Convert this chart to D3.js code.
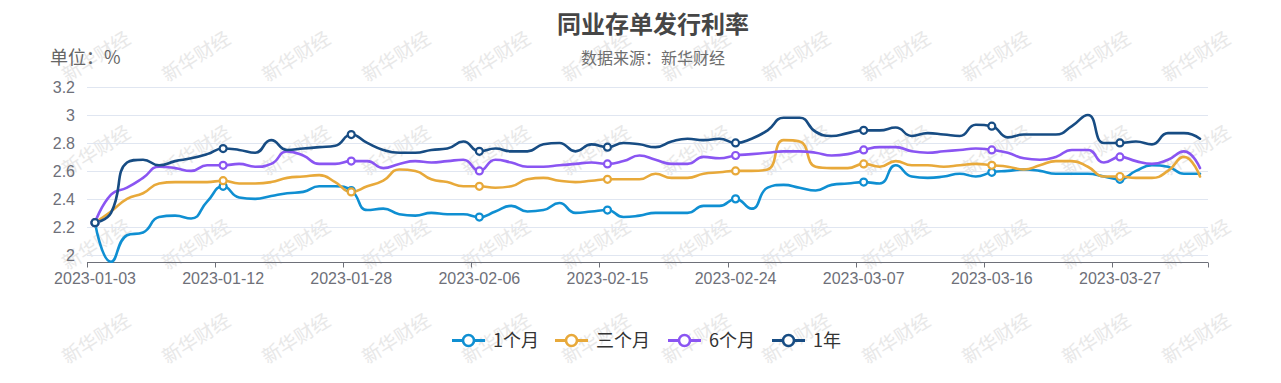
<!DOCTYPE html>
<html>
<head>
<meta charset="utf-8">
<script src="https://cdn.jsdelivr.net/npm/d3@7"></script>
<style>
html,body{margin:0;padding:0;background:#fff;}
svg{display:block;}
</style>
</head>
<body>
<svg id="chart" width="1281" height="383"></svg>
<script>
// ---------------- data ----------------
const dates = [
"2023-01-03","2023-01-04","2023-01-05","2023-01-06","2023-01-08","2023-01-09","2023-01-10","2023-01-11","2023-01-12",
"2023-01-13","2023-01-16","2023-01-17","2023-01-18","2023-01-19","2023-01-20","2023-01-21","2023-01-28",
"2023-01-29","2023-01-30","2023-01-31","2023-02-01","2023-02-02","2023-02-03","2023-02-05","2023-02-06",
"2023-02-07","2023-02-08","2023-02-09","2023-02-10","2023-02-12","2023-02-13","2023-02-14","2023-02-15",
"2023-02-16","2023-02-17","2023-02-19","2023-02-20","2023-02-21","2023-02-22","2023-02-23","2023-02-24",
"2023-02-26","2023-02-27","2023-02-28","2023-03-01","2023-03-02","2023-03-03","2023-03-06","2023-03-07",
"2023-03-08","2023-03-09","2023-03-10","2023-03-12","2023-03-13","2023-03-14","2023-03-15","2023-03-16",
"2023-03-17","2023-03-19","2023-03-20","2023-03-21","2023-03-22","2023-03-23","2023-03-24","2023-03-27",
"2023-03-28","2023-03-29","2023-03-30","2023-03-31","2023-04-03"];

const seriesNames = ["1个月","三个月","6个月","1年"];

const rate1m = [2.23,1.95,2.14,2.16,2.27,2.28,2.26,2.38,2.49,2.41,2.40,2.42,2.44,2.45,2.49,2.49,2.46,2.32,2.33,2.29,2.28,2.30,2.29,2.29,2.27,2.31,2.35,2.31,2.32,2.37,2.30,2.31,2.32,2.27,2.28,2.30,2.30,2.30,2.35,2.35,2.40,2.33,2.48,2.50,2.48,2.46,2.50,2.51,2.52,2.51,2.64,2.56,2.55,2.56,2.58,2.56,2.59,2.60,2.61,2.60,2.58,2.58,2.58,2.56,2.54,2.60,2.64,2.63,2.58,2.58];
const rate3m = [2.23,2.31,2.40,2.44,2.51,2.52,2.52,2.52,2.53,2.51,2.51,2.52,2.55,2.56,2.57,2.52,2.45,2.49,2.53,2.61,2.60,2.54,2.52,2.49,2.49,2.48,2.49,2.54,2.55,2.53,2.52,2.53,2.54,2.54,2.54,2.58,2.55,2.55,2.58,2.59,2.60,2.60,2.61,2.82,2.81,2.63,2.62,2.62,2.65,2.63,2.67,2.64,2.64,2.63,2.64,2.65,2.64,2.63,2.61,2.64,2.67,2.67,2.63,2.56,2.56,2.55,2.55,2.60,2.70,2.56];
const rate6m = [2.23,2.43,2.48,2.55,2.63,2.62,2.60,2.64,2.64,2.65,2.63,2.65,2.74,2.71,2.65,2.65,2.67,2.67,2.62,2.65,2.67,2.66,2.67,2.68,2.60,2.68,2.66,2.63,2.63,2.64,2.65,2.66,2.65,2.67,2.71,2.68,2.65,2.65,2.70,2.69,2.71,2.72,2.73,2.74,2.74,2.73,2.71,2.72,2.75,2.77,2.77,2.74,2.73,2.74,2.75,2.76,2.75,2.73,2.69,2.68,2.70,2.75,2.75,2.66,2.70,2.67,2.65,2.68,2.74,2.62];
const rate1y = [2.23,2.30,2.66,2.68,2.64,2.67,2.69,2.72,2.76,2.75,2.73,2.82,2.75,2.76,2.77,2.78,2.86,2.80,2.75,2.73,2.73,2.75,2.76,2.81,2.74,2.76,2.74,2.74,2.79,2.80,2.74,2.79,2.77,2.80,2.79,2.77,2.81,2.83,2.82,2.83,2.80,2.83,2.89,2.98,2.98,2.88,2.85,2.87,2.89,2.89,2.91,2.85,2.87,2.86,2.85,2.93,2.92,2.84,2.86,2.86,2.86,2.92,3.00,2.80,2.80,2.81,2.79,2.87,2.87,2.83];

const yTicks = [2, 2.2, 2.4, 2.6, 2.8, 3, 3.2];
const colors = ["#0f8fd2","#e8a93a","#8a55f2","#174c83"];

// ---------------- smoothing curve (ECharts-like, clamped) ----------------
function SmoothCurve(context, smooth) { this._context = context; this._smooth = smooth; }
SmoothCurve.prototype = {
  areaStart() {}, areaEnd() {},
  lineStart() { this._pts = []; },
  point(x, y) { this._pts.push([+x, +y]); },
  lineEnd() {
    const p = this._pts, ctx = this._context, s = this._smooth, n = p.length;
    if (!n) return;
    ctx.moveTo(p[0][0], p[0][1]);
    let cpx0 = p[0][0], cpy0 = p[0][1];
    let prevX = p[0][0], prevY = p[0][1];
    for (let i = 1; i < n; i++) {
      const x = p[i][0], y = p[i][1];
      let cpx1, cpy1, ncx = x, ncy = y;
      if (i === n - 1) { cpx1 = x; cpy1 = y; }
      else {
        const nextX = p[i+1][0], nextY = p[i+1][1];
        let vx = nextX - prevX, vy = nextY - prevY;
        const dx0 = x - prevX, dy0 = y - prevY, dx1 = nextX - x, dy1 = nextY - y;
        const lp = Math.sqrt(dx0*dx0 + dy0*dy0), ln = Math.sqrt(dx1*dx1 + dy1*dy1);
        const r = ln / (ln + lp);
        ncx = x + vx * s * r; ncy = y + vy * s * r;
        ncx = Math.min(ncx, Math.max(nextX, x)); ncy = Math.min(ncy, Math.max(nextY, y));
        ncx = Math.max(ncx, Math.min(nextX, x)); ncy = Math.max(ncy, Math.min(nextY, y));
        vx = ncx - x; vy = ncy - y;
        cpx1 = x - vx * lp / ln; cpy1 = y - vy * lp / ln;
        cpx1 = Math.min(cpx1, Math.max(prevX, x)); cpy1 = Math.min(cpy1, Math.max(prevY, y));
        cpx1 = Math.max(cpx1, Math.min(prevX, x)); cpy1 = Math.max(cpy1, Math.min(prevY, y));
        vx = x - cpx1; vy = y - cpy1;
        ncx = x + vx * ln / lp; ncy = y + vy * ln / lp;
      }
      ctx.bezierCurveTo(cpx0, cpy0, cpx1, cpy1, x, y);
      cpx0 = ncx; cpy0 = ncy; prevX = x; prevY = y;
    }
  }
};
const curveSmooth = ctx => new SmoothCurve(ctx, 0.5);

// ---------------- layout ----------------
const W = 1281, H = 383;
const plotL = 87, plotR = 1208, plotT = 87, plotB = 262.5;
const svg = d3.select("#chart");
const cjk = "'Noto Sans CJK SC','Noto Sans',sans-serif";
const latin = "'Liberation Sans',Arial,sans-serif";

// watermark (background)
const wm = svg.append("g").attr("class","watermark");
const wmRows = [58, 152, 246, 340];
wmRows.forEach((wy) => {
  for (let wx = 97; wx < W - 60; wx += 100) {
    wm.append("text")
      .attr("transform", `translate(${wx},${wy}) rotate(-32)`)
      .attr("text-anchor","middle")
      .attr("dominant-baseline","middle")
      .style("font-family", cjk)
      .style("font-size","19px")
      .style("fill","#e8e8e8")
      .text("新华财经");
  }
});

const x = d3.scaleBand().domain(dates).range([plotL, plotR]).paddingInner(0).paddingOuter(0);
const cx = d => x(d) + x.bandwidth() / 2;
const y = d3.scaleLinear().domain([1.945, 3.2]).range([plotB, plotT]);

// grid lines
svg.append("g").selectAll("line").data(yTicks).join("line")
  .attr("x1", plotL).attr("x2", plotR)
  .attr("y1", d => Math.round(y(d)) + 0.5).attr("y2", d => Math.round(y(d)) + 0.5)
  .attr("stroke", "#e0e6f1").attr("stroke-width", 1);

// y labels
svg.append("g").selectAll("text").data(yTicks).join("text")
  .attr("x", 75).attr("y", d => y(d)).attr("dy","0.36em")
  .attr("text-anchor","end")
  .style("font-family", latin).style("font-size","16px").style("fill","#6e7079")
  .text(d => d3.format("~g")(d));

// x axis
const labelIdx = dates.map((d,i)=>i).filter(i => i % 8 === 0);
const xAxis = d3.axisBottom(x)
  .tickValues(labelIdx.map(i => dates[i]))
  .tickSize(0).tickPadding(0);
const gx = svg.append("g").attr("transform", `translate(0,${plotB})`).call(xAxis);
gx.select(".domain").remove();
gx.selectAll("text")
  .attr("y", 16).attr("dy","0.36em")
  .style("font-family", latin).style("font-size","16px").style("fill","#6e7079");
gx.selectAll("line").remove();
svg.append("line").attr("x1", plotL).attr("x2", plotR).attr("y1", plotB).attr("y2", plotB)
  .attr("stroke","#6e7079").attr("stroke-width",1);
const tickPos = labelIdx.map(i => x(dates[i])).concat([plotR]);
svg.append("g").selectAll("line").data(tickPos).join("line")
  .attr("x1", d => Math.round(d) + 0.5).attr("x2", d => Math.round(d) + 0.5)
  .attr("y1", plotB).attr("y2", plotB + 5)
  .attr("stroke","#6e7079").attr("stroke-width",1);

// lines
const allSeries = [rate1m, rate3m, rate6m, rate1y];
const line = d3.line().x((d,i) => cx(dates[i])).y(d => y(d)).curve(curveSmooth);
allSeries.forEach((s, k) => {
  svg.append("path").datum(s)
    .attr("d", line)
    .attr("fill","none").attr("stroke", colors[k]).attr("stroke-width", 2.6)
    .attr("stroke-linejoin","round").attr("stroke-linecap","round");
});
allSeries.forEach((s, k) => {
  svg.append("g").selectAll("circle").data(labelIdx).join("circle")
    .attr("cx", i => cx(dates[i])).attr("cy", i => y(s[i])).attr("r", 3.5)
    .attr("fill","#fff").attr("stroke", colors[k]).attr("stroke-width", 2.2);
});

// title & texts
svg.append("text").attr("x", 653).attr("y", 33).attr("text-anchor","middle")
  .style("font-family", cjk).style("font-size","24px").style("font-weight","bold").style("fill","#464646")
  .text("同业存单发行利率");
svg.append("text").attr("x", 653).attr("y", 64).attr("text-anchor","middle")
  .style("font-family", cjk).style("font-size","16px").style("fill","#6e6e6e")
  .text("数据来源：新华财经");
svg.append("text").attr("x", 50).attr("y", 64)
  .style("font-family", cjk).style("font-size","18px").style("fill","#666")
  .text("单位：%");

// legend
const legendX = [452, 555, 668, 772];
const lg = svg.append("g");
seriesNames.forEach((n, k) => {
  const gx0 = legendX[k], gy = 340.5;
  lg.append("line").attr("x1", gx0).attr("x2", gx0 + 33).attr("y1", gy).attr("y2", gy)
    .attr("stroke", colors[k]).attr("stroke-width", 3);
  lg.append("circle").attr("cx", gx0 + 16.5).attr("cy", gy).attr("r", 5.5)
    .attr("fill","#fff").attr("stroke", colors[k]).attr("stroke-width", 2.6);
  lg.append("text").attr("x", gx0 + 41).attr("y", gy).attr("dy","0.36em")
    .style("font-family", cjk).style("font-size","18px").style("fill","#333")
    .text(n);
});
</script>
</body>
</html>
